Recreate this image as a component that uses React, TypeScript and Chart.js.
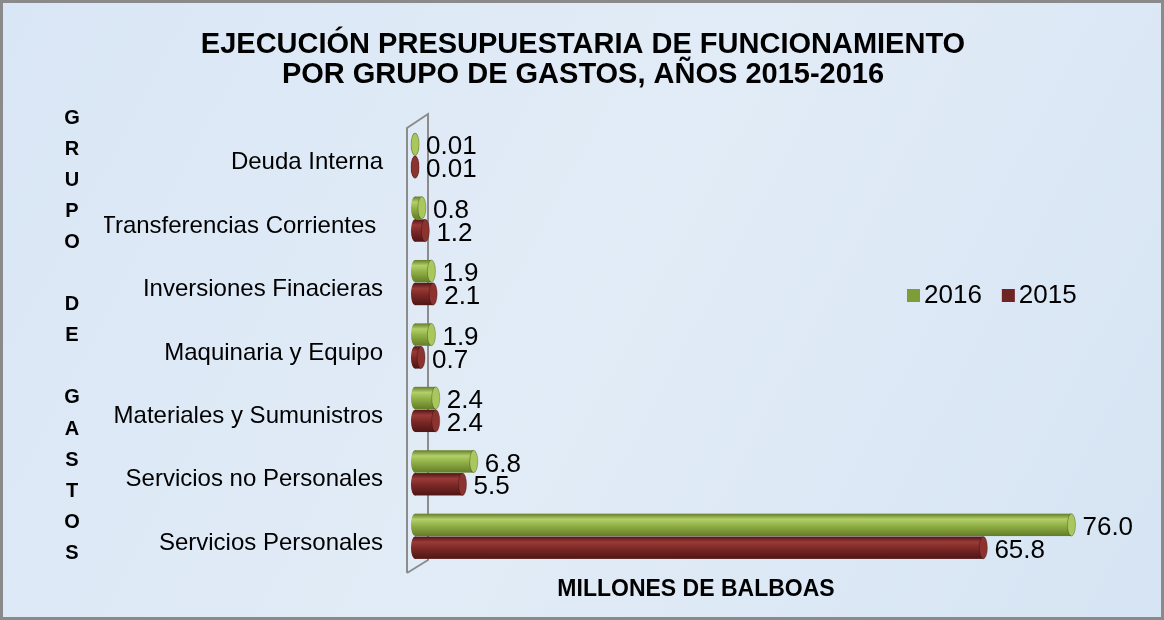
import React, { useEffect, useRef } from "react";
import { Chart, registerables } from "chart.js";

Chart.register(...registerables);

const categories = [
  "Deuda Interna",
  "Transferencias Corrientes ",
  "Inversiones Finacieras",
  "Maquinaria y Equipo",
  "Materiales y Sumunistros",
  "Servicios no Personales",
  "Servicios Personales",
];
const series2016 = [0.01, 0.8, 1.9, 1.9, 2.4, 6.8, 76.0];
const series2015 = [0.01, 1.2, 2.1, 0.7, 2.4, 5.5, 65.8];
const seriesNames = ["2016", "2015"];
const titleLines = ["EJECUCIÓN PRESUPUESTARIA DE FUNCIONAMIENTO", "POR GRUPO DE GASTOS, AÑOS 2015-2016"];
const yTitleLetters = ["G", "R", "U", "P", "O", "", "D", "E", "", "G", "A", "S", "T", "O", "S"];
const xTitle = "MILLONES DE BALBOAS";

const FONT = "'Liberation Sans', Arial, sans-serif";
const palettes = [
  { light: "#b3cf6a", mid: "#8fae45", dark: "#637d27", cap: "#a9c85c", legend: "#7e9c38" },
  { light: "#9a3b38", mid: "#7a2826", dark: "#4f1514", cap: "#8c3330", legend: "#6e2524" },
];

const fmt = (v: number) => (v < 0.1 ? v.toFixed(2) : v.toFixed(1));

const decorPlugin = {
  id: "decor",
  beforeDraw(chart: any) {
    const { ctx, width, height } = chart;
    ctx.save();
    const g = ctx.createLinearGradient(0, 0, width, height);
    g.addColorStop(0, "#d9e6f5");
    g.addColorStop(0.5, "#e2ecf7");
    g.addColorStop(1, "#d6e4f3");
    ctx.fillStyle = g;
    ctx.fillRect(0, 0, width, height);
    ctx.strokeStyle = "#8a8a8a";
    ctx.lineWidth = 3;
    ctx.strokeRect(1.5, 1.5, width - 3, height - 3);

    // title
    ctx.fillStyle = "#000";
    ctx.font = `bold 29px ${FONT}`;
    ctx.textAlign = "center";
    ctx.textBaseline = "middle";
    ctx.fillText(titleLines[0], 583, 45);
    ctx.fillText(titleLines[1], 583, 75);

    // y title (stacked letters)
    ctx.font = `bold 20px ${FONT}`;
    yTitleLetters.forEach((l, i) => {
      if (l) ctx.fillText(l, 72, 118 + i * 31.1);
    });

    // x title
    ctx.font = `bold 23px ${FONT}`;
    ctx.fillText(xTitle, 696, 590);

    // legend
    ctx.font = `26px ${FONT}`;
    ctx.textAlign = "left";
    let lx = 907;
    seriesNames.forEach((name, i) => {
      ctx.fillStyle = palettes[i].legend;
      ctx.fillRect(lx, 289, 13, 13);
      ctx.fillStyle = "#000";
      ctx.fillText(name, lx + 17, 296);
      lx += ctx.measureText(name).width + 17 + 20;
    });

    // back wall
    const a = chart.chartArea;
    ctx.strokeStyle = "#8c8c8c";
    ctx.lineWidth = 2;
    ctx.beginPath();
    ctx.moveTo(a.left - 8, a.bottom + 5);
    ctx.lineTo(a.left - 8, a.top + 4);
    ctx.lineTo(a.left + 13, a.top - 10);
    ctx.lineTo(a.left + 13, a.bottom - 8);
    ctx.lineTo(a.left - 8, a.bottom + 5);
    ctx.stroke();
    ctx.restore();
  },
  afterDatasetsDraw(chart: any) {
    const { ctx } = chart;
    ctx.save();
    chart.data.datasets.forEach((ds: any, di: number) => {
      const meta = chart.getDatasetMeta(di);
      const p = palettes[di];
      meta.data.forEach((bar: any, i: number) => {
        const { x, y, base, height } = bar.getProps(["x", "y", "base", "height"], true);
        const h = height;
        const top = y - h / 2;
        const rx = h * 0.18;
        const ry = h / 2;
        const grad = ctx.createLinearGradient(0, top, 0, top + h);
        grad.addColorStop(0, p.dark);
        grad.addColorStop(0.25, p.light);
        grad.addColorStop(0.55, p.mid);
        grad.addColorStop(1, p.dark);
        // left cap
        ctx.fillStyle = grad;
        ctx.beginPath();
        ctx.ellipse(base, y, rx, ry, 0, 0, Math.PI * 2);
        ctx.fill();
        // body
        ctx.fillRect(base, top, Math.max(0, x - base), h);
        // right cap
        ctx.fillStyle = p.cap;
        ctx.beginPath();
        ctx.ellipse(x, y, rx, ry, 0, 0, Math.PI * 2);
        ctx.fill();
        ctx.strokeStyle = "rgba(0,0,0,0.25)";
        ctx.lineWidth = 1;
        ctx.stroke();
        // value label
        ctx.fillStyle = "#000";
        ctx.font = `26px ${FONT}`;
        ctx.textAlign = "left";
        ctx.textBaseline = "middle";
        ctx.fillText(fmt(ds.data[i]), x + rx + 7, y + 3);
      });
    });
    ctx.restore();
  },
};

export default function App() {
  const ref = useRef<HTMLCanvasElement>(null);
  useEffect(() => {
    document.body.style.margin = "0";
    const chart = new Chart(ref.current as HTMLCanvasElement, {
      type: "bar",
      data: {
        labels: categories,
        datasets: [
          { label: seriesNames[0], data: series2016, backgroundColor: "rgba(0,0,0,0)" },
          { label: seriesNames[1], data: series2015, backgroundColor: "rgba(0,0,0,0)" },
        ],
      },
      options: {
        indexAxis: "y",
        animation: false,
        responsive: false,
        maintainAspectRatio: false,
        categoryPercentage: 0.72,
        barPercentage: 0.98,
        layout: { padding: { left: 104, top: 124, right: 58, bottom: 52 } },
        plugins: {
          legend: { display: false },
          title: { display: false },
          tooltip: { enabled: false },
        },
        scales: {
          x: { display: false, min: 0, max: 80 },
          y: {
            grid: { display: false },
            border: { display: false },
            ticks: {
              color: "#000",
              padding: 24,
              labelOffset: 7,
              font: { family: FONT, size: 24 },
            },
            afterFit(scale: any) {
              scale.width = 311;
            },
          },
        },
      },
      plugins: [decorPlugin],
    });
    return () => chart.destroy();
  }, []);
  return (
    <div style={{ width: 1164, height: 620 }}>
      <canvas ref={ref} width={1164} height={620} style={{ display: "block" }} />
    </div>
  );
}
